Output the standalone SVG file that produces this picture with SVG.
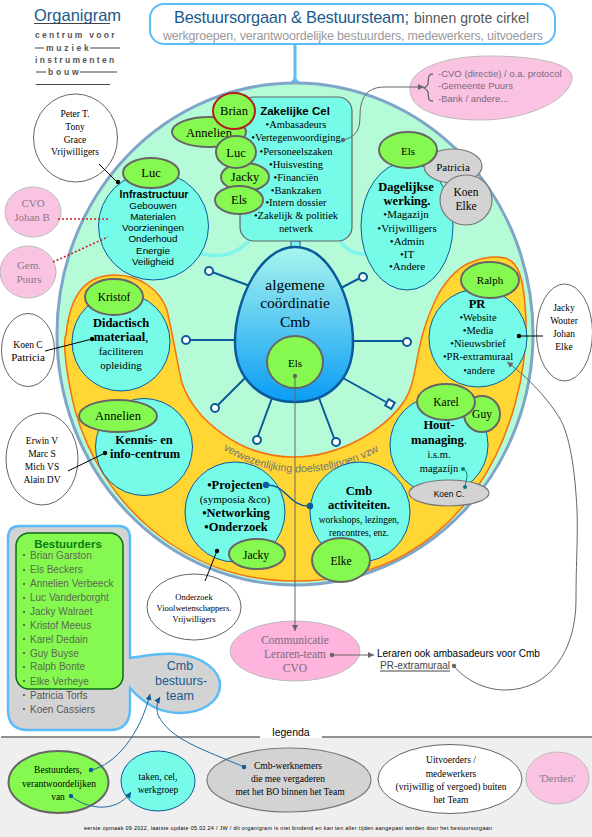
<svg xmlns="http://www.w3.org/2000/svg" width="592" height="837" viewBox="0 0 592 837">
<style>
text{font-family:"Liberation Serif","Times New Roman",serif;fill:#000;text-anchor:middle}
.s{font-family:"Liberation Sans",Arial,sans-serif}
.st{text-anchor:start}
.b{font-weight:bold}
.cy{fill:#76fbe8;stroke:#0b5a9c;stroke-width:1}
.gr{fill:#85f94f;stroke:#666;stroke-width:2}
.gy{fill:#d3d3d3;stroke:#777;stroke-width:1.2}
.wh{fill:#fff;stroke:#666;stroke-width:1}
.pk{fill:#fbc3e2;stroke:#bbb;stroke-width:1}
.pt{fill:#8a7a88}
.f11{font-size:11px}.f10{font-size:10.5px}.f12{font-size:12.5px}.f13{font-size:13px}
.spoke{stroke:#0b5a9c;stroke-width:2;fill:none}
.hub{fill:#fff;stroke:#0b5a9c;stroke-width:2}
.bl{stroke:#000;stroke-width:1;fill:none}
.gl{stroke:#666;stroke-width:1;fill:none}
.bc{stroke:#1f6a9e;stroke-width:1;fill:none}
.rd{stroke:#c8202a;stroke-width:1.6;stroke-dasharray:2 2;fill:none}
.ln{font-size:10px;fill:#5a6a55;text-anchor:start}
.lg{font-size:8.500px;letter-spacing:2.300px;fill:#555;font-weight:bold;text-anchor:start}
</style>
<defs>
<linearGradient id="egg" x1="0" y1="0" x2="0" y2="1"><stop offset="0" stop-color="#a8f5ee"/><stop offset="1" stop-color="#0a9cf5"/></linearGradient>
<marker id="ag" markerWidth="8" markerHeight="8" refX="6" refY="3" orient="auto" markerUnits="userSpaceOnUse"><path d="M0,0L6,3L0,6Z" fill="#666"/></marker>
<marker id="ab" markerWidth="8" markerHeight="8" refX="6" refY="3" orient="auto" markerUnits="userSpaceOnUse"><path d="M0,0L6,3L0,6Z" fill="#0b5a9c"/></marker>
</defs>

<g id="logo">
<text class="s st" x="34" y="21" font-size="16.500" style="fill:#1a5a8c">Organigram</text>
<path d="M34,23.500H110M35,48H44M90,48H120M36,72H46M80,72H117M36,84.500H110" stroke="#444" stroke-width="1"/>
<text class="s lg" x="35" y="38">centrum voor</text>
<text class="s lg" x="46" y="51" style="letter-spacing:2.800px">muziek</text>
<text class="s lg" x="35" y="63">instrumenten</text>
<text class="s lg" x="48" y="75" style="letter-spacing:2.800px">bouw</text>
</g>

<g id="title">
<path d="M295,45V80" stroke="#5bbcf7" stroke-width="3"/>
<path d="M289,84L295,77L301,84Z" fill="#5bbcf7"/>
<rect x="150" y="4" width="405" height="40" rx="14" fill="#fff" stroke="#5bbcf7" stroke-width="2"/>
<text class="s st" x="174" y="23" font-size="16.400" style="fill:#1a5a8c" textLength="235">Bestuursorgaan &amp; Bestuursteam;</text>
<text class="s st" x="414" y="23" font-size="14" style="fill:#555" textLength="115">binnen grote cirkel</text>
<text class="s st" x="163" y="40" font-size="12.400" style="fill:#999" textLength="380">werkgroepen, verantwoordelijke bestuurders, medewerkers, uitvoeders</text>
</g>

<g id="grote-cirkel">
<ellipse cx="295" cy="334" rx="238" ry="251" fill="#b6fbd8" stroke="#7fa6c9" stroke-width="3"/>
</g>
<g id="verwezenlijking">
<path id="band" d="M115,275C140,275 160,290 167,310C175,345 178,368 182,383C195,420 240,457 293,457C340,457 385,430 405,400C420,375 412,345 439,293C450,275 460,266 472,262C482,258 495,256 505,258C518,262 524,275 526,320C528,420 470,581 295,581C180,581 100,500 75,410C65,370 63,340 66,335C70,295 85,275 115,275Z" fill="#ffd633" stroke="#f5700f" stroke-width="1.500"/>
<path id="vw" d="M222,449Q300,497 388,446" fill="none"/>
<text class="s" font-size="10.800" style="fill:#777;text-anchor:start"><textPath href="#vw" startOffset="1">verwezenlijking doelstellingen vzw</textPath></text>
</g>

<g id="arcs">
<path d="M200,253Q228,262 249,241M340,241Q350,255 366,254" fill="none" stroke="#7ff5ee" stroke-width="3.500"/>
<rect x="291" y="241" width="9" height="22" fill="#7ff5ee" stroke="#0b5a9c" stroke-width="1"/>
</g>

<g id="spokes">
<path class="spoke" d="M250,286L212,272M235,340H190M245,378L218,405M272,398L258,436M339,289L360,278M353,341H403M343,378L386,402M319,398L334,438"/>
<circle class="hub" cx="209" cy="271" r="4"/><circle class="hub" cx="186" cy="340" r="4"/><circle class="hub" cx="215" cy="408" r="4"/><circle class="hub" cx="257" cy="440" r="4"/><circle class="hub" cx="363" cy="277" r="4"/><circle class="hub" cx="407" cy="342" r="4"/><circle class="hub" cx="336" cy="442" r="4"/>
<rect class="hub" x="386.500" y="400.500" width="7" height="7" stroke-width="1.500" transform="rotate(30 390 404)"/>
</g>

<g id="coordinatie">
<path d="M295,247C330,247 353,300 353,342C353,380 328,402 295,402C262,402 235,380 235,342C235,300 260,247 295,247Z" fill="url(#egg)" stroke="#0b5a9c" stroke-width="2.500"/>
<text x="295" y="290" font-size="15.500">algemene</text>
<text x="295" y="308" font-size="15.500">coördinatie</text>
<text x="295" y="327" font-size="15.500">Cmb</text>
<ellipse class="gr" cx="295" cy="362" rx="28" ry="26"/>
<text x="295" y="367" class="f11">Els</text>
</g>

<g id="zakelijke-cel">
<rect x="240" y="97" width="112" height="144" rx="14" fill="#76fbe8" stroke="#666" stroke-width="1.200"/>
<text class="s b" x="295" y="115" font-size="11.500">Zakelijke Cel</text>
<text x="296" y="128" class="f10">•Ambasadeurs</text>
<text x="296" y="141" class="f10">•Vertegenwoordiging</text>
<text x="296" y="155" class="f10">•Personeelszaken</text>
<text x="296" y="168" class="f10">•Huisvesting</text>
<text x="296" y="181" class="f10">•Financiën</text>
<text x="296" y="194" class="f10">•Bankzaken</text>
<text x="296" y="206" class="f10">•Intern dossier</text>
<text x="296" y="219" class="f10">•Zakelijk &amp; politiek</text>
<text x="296" y="232" class="f10">netwerk</text>
</g>
<g id="annelien-z"><ellipse class="gr" cx="209" cy="132" rx="37" ry="15"/><text x="209" y="137" class="f12">Annelien</text></g>
<g id="brian"><ellipse cx="234" cy="111" rx="21" ry="18" fill="#85f94f" stroke="#b21e1e" stroke-width="2"/><text x="234" y="115" class="f12">Brian</text></g>
<g id="jacky-z"><ellipse class="gr" cx="245" cy="177" rx="24" ry="14"/><text x="245" y="181" class="f12">Jacky</text></g>
<g id="luc-z"><ellipse class="gr" cx="236" cy="152" rx="20" ry="16"/><text x="236" y="157" class="f12">Luc</text></g>
<g id="els-z"><ellipse class="gr" cx="239" cy="200" rx="24" ry="14"/><text x="239" y="204" class="f12">Els</text></g>

<g id="infrastructuur">
<ellipse class="cy" cx="153.500" cy="226" rx="55" ry="54"/>
<text class="s b" x="154" y="198" font-size="10.500">Infrastructuur</text>
<text class="s" x="153" y="209" font-size="9.800">Gebouwen</text>
<text class="s" x="153" y="220" font-size="9.800">Materialen</text>
<text class="s" x="153" y="231" font-size="9.800">Voorzieningen</text>
<text class="s" x="153" y="242" font-size="9.800">Onderhoud</text>
<text class="s" x="153" y="254" font-size="9.800">Energie</text>
<text class="s" x="153" y="265" font-size="9.800">Veiligheid</text>
</g>
<g id="luc"><ellipse class="gr" cx="151" cy="173" rx="28" ry="15"/><text x="151" y="177" class="f12">Luc</text></g>

<g id="dagelijkse">
<ellipse class="cy" cx="407" cy="226" rx="46" ry="64"/>
<text x="406" y="191" class="f12 b">Dagelijkse</text>
<text x="407" y="205" class="f12 b">werking.</text>
<text x="406" y="218" font-size="11">•Magazijn</text>
<text x="407" y="232" font-size="11">•Vrijwilligers</text>
<text x="407" y="245" font-size="11">•Admin</text>
<text x="407" y="258" font-size="11">•IT</text>
<text x="407" y="270" font-size="11">•Andere</text>
</g>
<g id="patricia"><ellipse class="gy" cx="453" cy="166" rx="29" ry="17"/><text x="453" y="171" class="f11">Patricia</text></g>
<g id="koen-elke"><ellipse class="gy" cx="466" cy="200" rx="26" ry="25"/><text x="466" y="196" font-size="11.500">Koen</text><text x="466" y="210" font-size="11.500">Elke</text></g>
<g id="els-d"><ellipse class="gr" cx="408" cy="150" rx="29" ry="18"/><text x="408" y="155" class="f11">Els</text></g>

<g id="didactisch">
<circle class="cy" cx="121" cy="342" r="49"/>
<text x="121" y="327" class="f12 b">Didactisch</text>
<text x="121" y="341" class="f12"><tspan class="b">materiaal</tspan>,</text>
<text x="121" y="355" class="f11">faciliteren</text>
<text x="121" y="369" class="f11">opleiding</text>
</g>
<g id="kristof"><ellipse class="gr" cx="114" cy="297" rx="29" ry="18"/><text x="114" y="301" font-size="11.500">Kristof</text></g>

<g id="kennis">
<circle class="cy" cx="144" cy="447" r="48.500"/>
<text x="144" y="444" class="f12 b">Kennis- en</text>
<text x="145" y="458" class="f12 b">info-centrum</text>
</g>
<g id="annelien"><ellipse class="gr" cx="118" cy="416" rx="39" ry="16"/><text x="118" y="420" class="f12">Annelien</text></g>

<g id="projecten">
<circle class="cy" cx="235" cy="512" r="50"/>
<text x="235" y="489" class="f12"><tspan class="b">•Projecten</tspan></text>
<text x="235" y="503" font-size="11">(symposia &amp;co)</text>
<text x="236" y="517" class="f12 b">•Networking</text>
<text x="236" y="531" class="f12 b">•Onderzoek</text>
</g>
<g id="jacky"><ellipse class="gr" cx="257" cy="554" rx="28" ry="15"/><text x="256" y="559" font-size="11.500">Jacky</text></g>

<g id="activiteiten">
<circle class="cy" cx="360" cy="512" r="50"/>
<text x="359" y="495" class="f12 b">Cmb</text>
<text x="359" y="509" class="f12 b">activiteiten.</text>
<text x="359" y="523" font-size="9.500">workshops, lezingen,</text>
<text x="359" y="536" font-size="9.500">rencontres, enz.</text>
</g>
<g id="elke"><ellipse class="gr" cx="341" cy="560" rx="29" ry="22"/><text x="341" y="565" font-size="11.500">Elke</text></g>

<g id="pr">
<circle class="cy" cx="478" cy="338" r="49"/>
<text x="477" y="308" class="f12 b">PR</text>
<text x="478" y="321" class="f10">•Website</text>
<text x="478" y="334" class="f10">•Media</text>
<text x="478" y="347" class="f10">•Nieuwsbrief</text>
<text x="478" y="360" class="f10">•PR-extramuraal</text>
<text x="479" y="374" class="f10">•andere</text>
</g>
<g id="ralph"><ellipse class="gr" cx="490" cy="280" rx="29" ry="18"/><text x="490" y="284" class="f11">Ralph</text></g>

<g id="hout">
<circle class="cy" cx="439" cy="445" r="49"/>
<text x="439" y="429" class="f12 b">Hout-</text>
<text x="439" y="444" class="f12"><tspan class="b">managing</tspan>.</text>
<text x="439" y="458" font-size="10.500">i.s.m.</text>
<text x="439" y="472" font-size="10.500">magazijn</text>
</g>
<g id="guy"><circle class="gr" cx="482" cy="414" r="18"/><text x="482" y="418" font-size="11.500">Guy</text></g>
<g id="karel"><ellipse class="gr" cx="446" cy="402" rx="29" ry="18"/><text x="446" y="406" font-size="11.500">Karel</text></g>
<g id="koen-c"><ellipse class="gy" cx="449" cy="493" rx="40" ry="13"/><text class="s" x="449" y="497" font-size="8.500">Koen C.</text></g>

<g id="peter"><ellipse class="wh" cx="75.500" cy="138" rx="42" ry="44"/>
<text x="75" y="117" font-size="9.500">Peter T.</text><text x="75" y="130" font-size="9.500">Tony</text><text x="75" y="143" font-size="9.500">Grace</text><text x="75" y="155" font-size="9.500">Vrijwilligers</text></g>
<g id="cvo"><ellipse class="pk" cx="33" cy="212" rx="28" ry="25"/><text class="pt" x="33" y="207" font-size="11">CVO</text><text class="pt" x="32" y="221" font-size="11">Johan B</text></g>
<g id="gem"><ellipse class="pk" cx="28" cy="272" rx="28" ry="26"/><text class="pt" x="29" y="269" font-size="11">Gem.</text><text class="pt" x="29" y="283" font-size="11">Puurs</text></g>
<g id="koen-patricia"><ellipse class="wh" cx="28" cy="350" rx="26.500" ry="36.500"/><text x="28" y="348" font-size="9.500">Koen C</text><text x="28" y="361" font-size="11">Patricia</text></g>
<g id="erwin"><ellipse class="wh" cx="42" cy="459" rx="36" ry="46"/>
<text x="42" y="444" font-size="9.500">Erwin V</text><text x="42" y="457" font-size="9.500">Marc S</text><text x="42" y="470" font-size="9.500">Mich VS</text><text x="42" y="483" font-size="9.500">Alain DV</text></g>
<g id="jacky-wouter"><ellipse class="wh" cx="564.500" cy="332.500" rx="28" ry="48.500"/>
<text x="564" y="311" font-size="9.500">Jacky</text><text x="564" y="324" font-size="9.500">Wouter</text><text x="564" y="337" font-size="9.500">Johan</text><text x="564" y="350" font-size="9.500">Elke</text></g>
<g id="onderzoek"><ellipse class="wh" cx="194" cy="607" rx="47" ry="33"/>
<text x="194" y="600" font-size="8.500">Onderzoek</text><text x="194" y="611" font-size="8.500">Vioolwetenschappers.</text><text x="194" y="622" font-size="8.500">Vrijwilligers</text></g>

<g id="derden-top">
<path d="M410,87C412,68 445,56 490,56C530,56 570,62 572,76C574,95 535,120 480,120C435,120 408,108 410,87Z" class="pk"/>
<path d="M433,74C427,74 429,79 428,84C427,86 426,87 424,88C426,89 427,90 428,92C429,97 427,101 433,101" fill="none" stroke="#666" stroke-width="1.300"/>
<text class="s st" x="438" y="77" font-size="9.500" style="fill:#7a6a80">-CVO (directie) / o.a. protocol</text>
<text class="s st" x="438" y="89" font-size="9.500" style="fill:#7a6a80">-Gemeente Puurs</text>
<text class="s st" x="438" y="102" font-size="9.500" style="fill:#7a6a80">-Bank / andere...</text>
</g>

<g id="communicatie">
<ellipse cx="295" cy="651" rx="65" ry="30" fill="#feb4dc" stroke="#bbb"/>
<text x="295" y="644" font-size="11.500" style="fill:#7d6a7a">Communicatie</text>
<text x="295" y="658" font-size="11.500" style="fill:#7d6a7a">Leraren-team</text>
<text x="295" y="672" font-size="11.500" style="fill:#7d6a7a">CVO</text>
</g>

<g id="leraren">
<text class="s st" x="377" y="657" font-size="10">Leraren ook ambasadeurs voor Cmb</text>
<text class="s st" x="380" y="669" font-size="10" style="fill:#444">PR-extramuraal</text>
<path d="M380,671H450" stroke="#444" stroke-width="1"/>
</g>

<g id="bestuursteam">
<path d="M20,526H118Q130,526 130,538V658C150,655 160,653 175,654C205,656 220,672 220,685C220,703 200,713 180,713C160,713 143,703 130,688V708Q130,730 110,730H28Q8,730 8,710V538Q8,526 20,526Z" fill="#d3d3d3" stroke="#5bbcf7" stroke-width="2.500"/>
<rect x="16" y="533" width="107" height="156" rx="13" fill="#85f94f" stroke="#0b6b13" stroke-width="1.500"/>
<text class="s b" x="68" y="548" font-size="11.500" style="fill:#0a7a18">Bestuurders</text>
<text class="s ln" x="30" y="559">Brian Garston</text>
<text class="s ln" x="30" y="573">Els Beckers</text>
<text class="s ln" x="30" y="587">Annelien Verbeeck</text>
<text class="s ln" x="30" y="601">Luc Vanderborght</text>
<text class="s ln" x="30" y="615">Jacky Walraet</text>
<text class="s ln" x="30" y="629">Kristof Meeus</text>
<text class="s ln" x="30" y="643">Karel Dedain</text>
<text class="s ln" x="30" y="657">Guy Buyse</text>
<text class="s ln" x="30" y="670">Ralph Bonte</text>
<text class="s ln" x="30" y="685">Elke Verheye</text>
<text class="s ln" x="30" y="699" style="fill:#555">Patricia Torfs</text>
<text class="s ln" x="30" y="713" style="fill:#555">Koen Cassiers</text>
<g fill="#444"><circle cx="24" cy="555" r="1"/><circle cx="24" cy="570" r="1"/><circle cx="24" cy="584" r="1"/><circle cx="24" cy="598" r="1"/><circle cx="24" cy="612" r="1"/><circle cx="24" cy="625" r="1"/><circle cx="24" cy="639" r="1"/><circle cx="24" cy="653" r="1"/><circle cx="24" cy="667" r="1"/><circle cx="24" cy="681" r="1"/><circle cx="24" cy="695" r="1"/><circle cx="24" cy="709" r="1"/></g>
<text class="s" x="180" y="670" font-size="12.500" style="fill:#1a5a8c">Cmb</text>
<text class="s" x="181" y="685" font-size="12.500" style="fill:#1a5a8c">bestuurs-</text>
<text class="s" x="180" y="700" font-size="12.500" style="fill:#1a5a8c">team</text>
</g>

<g id="legenda">
<rect x="0" y="738" width="592" height="99" fill="#efefef"/>
<path d="M1,737H260M322,737H592" stroke="#222" stroke-width="1"/>
<text class="s" x="291" y="736" font-size="10.500">legenda</text>
<text class="s" x="288" y="830" font-size="5.400" textLength="408">eerste opmaak 09.2022, laatste update 05.02.24 / JW / dit organigram is niet bindend en kan ten aller tijden aangepast worden door het bestuursorgaan</text>
</g>
<g id="l-bestuurders"><ellipse class="gr" cx="58.500" cy="782" rx="50" ry="31"/>
<text x="58" y="773" font-size="9.500">Bestuurders,</text><text x="59" y="787" font-size="9.500">verantwoordelijken</text><text x="58" y="800" font-size="9.500">van</text></g>
<g id="l-taken"><ellipse class="cy" cx="158" cy="781" rx="37" ry="30"/><text x="158" y="780" font-size="9.500">taken, cel,</text><text x="158" y="793" font-size="9.500">werkgroep</text></g>
<g id="l-werknemers"><ellipse class="gy" cx="289" cy="780" rx="82" ry="32"/>
<text x="288" y="769" font-size="9.500">Cmb-werknemers</text><text x="288" y="782" font-size="9.500">die mee vergaderen</text><text x="290" y="795" font-size="9.500">met het BO binnen het Team</text></g>
<g id="l-uitvoerders"><ellipse class="wh" cx="450" cy="779" rx="72" ry="34.500"/>
<text x="451" y="763" font-size="9.500">Uitvoerders /</text><text x="451" y="777" font-size="9.500">medewerkers</text><text x="451" y="790" font-size="9.500">(vrijwillig of vergoed) buiten</text><text x="451" y="803" font-size="9.500">het Team</text></g>
<g id="l-derden"><ellipse class="pk" cx="557.500" cy="778" rx="31.500" ry="26"/><text class="pt" x="557" y="782" font-size="11">'Derden'</text></g>

<g id="connectors">
<path class="bl" d="M99,164L118,183"/><circle cx="118" cy="182" r="2.200"/>
<path class="rd" d="M58,219H108M53,262L108,237"/>
<path class="bl" d="M45,351L92,339"/><circle cx="92" cy="339" r="2.200"/>
<path class="bl" d="M68,471L105,453"/><circle cx="105" cy="453" r="2.200"/>
<path class="bl" d="M205,581L217,551"/><circle cx="217" cy="551" r="2.200"/>
<path class="bl" d="M543,336H519"/><circle cx="519" cy="336" r="2.200"/>
<path d="M266,485C285,483 290,508 310,506" fill="none" stroke="#0b5a9c" stroke-width="1.500"/><circle cx="266" cy="485" r="3.200" fill="#0b5a9c"/><circle cx="310" cy="506" r="3.200" fill="#0b5a9c"/>
<path d="M463,469C470,472 466,480 465,487" fill="none" stroke="#0e7a78" stroke-width="1"/><circle cx="463" cy="469" r="2" fill="#0e7a78"/><circle cx="465" cy="487" r="2" fill="#0e7a78"/>
<path class="gl" d="M295,376V631" marker-end="url(#ag)"/><circle cx="295" cy="376" r="2.200" fill="#666"/>
<path class="gl" d="M332,655H374" marker-end="url(#ag)"/><circle cx="332" cy="655" r="2.200" fill="#666"/>
<path class="gl" d="M454,666C465,680 485,690 505,690C550,690 576,650 576,600C576,560 578,540 577,510C575,470 570,435 559,417C545,395 525,375 507,362" marker-end="url(#ag)"/><circle cx="454" cy="666" r="2.200" fill="#666"/>
<path class="gl" d="M343,140C365,135 358,118 361,105C364,92 372,87 385,87H424" marker-end="url(#ag)"/><circle cx="343" cy="140" r="2.200" fill="#666"/>
<path class="bc" d="M91,770C115,765 140,735 150,694" marker-end="url(#ab)"/><circle cx="91" cy="770" r="2.200" fill="#0b5a9c"/>
<path class="bc" d="M244,767C205,750 170,740 158,715C156,708 157,702 160,697" marker-end="url(#ab)"/><circle cx="244" cy="767" r="2.200" fill="#0b5a9c"/>
<path class="bc" d="M71,796C85,808 115,815 131,792" marker-end="url(#ab)"/><circle cx="71" cy="796" r="2.200" fill="#0b5a9c"/>
</g>
</svg>
